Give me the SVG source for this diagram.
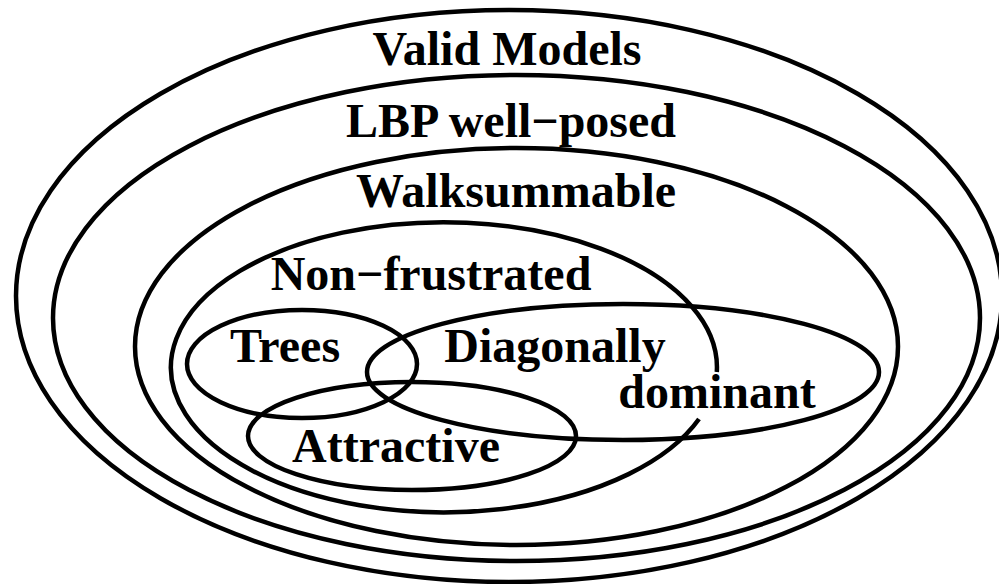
<svg xmlns="http://www.w3.org/2000/svg" width="999" height="584" viewBox="0 0 999 584">
<style>
.s{fill:none;stroke:#000;stroke-width:4.5}
.t{font-family:"Liberation Serif","Times New Roman",serif;font-weight:bold;font-size:48px;fill:#000;text-anchor:middle}
</style>
<rect width="999" height="584" fill="#fff"/>
<g id="valid"><ellipse class="s" cx="509" cy="296" rx="493" ry="286"/><text class="t" x="507" y="65">Valid Models</text></g>
<g id="lbp"><ellipse class="s" cx="516.5" cy="318" rx="463.5" ry="243"/><text class="t" x="511" y="137">LBP well−posed</text></g>
<g id="walk"><ellipse class="s" cx="516.5" cy="346.5" rx="381.5" ry="198.5"/><text class="t" x="516" y="207">Walksummable</text></g>
<g id="nonfr"><path class="s" d="M716.8 372 A273 145 0 1 0 699 419"/><text class="t" x="431" y="290">Non−frustrated</text></g>
<g id="trees"><ellipse class="s" cx="302" cy="364" rx="115" ry="54"/><text class="t" x="285" y="362">Trees</text></g>
<g id="diag"><ellipse class="s" cx="623" cy="372" rx="256" ry="68"/><text class="t" x="555" y="362">Diagonally</text><text class="t" x="717" y="408">dominant</text></g>
<g id="attr"><ellipse class="s" cx="412" cy="436" rx="164" ry="54"/><text class="t" x="396" y="462">Attractive</text></g>
<g id="connectors"/>
</svg>
